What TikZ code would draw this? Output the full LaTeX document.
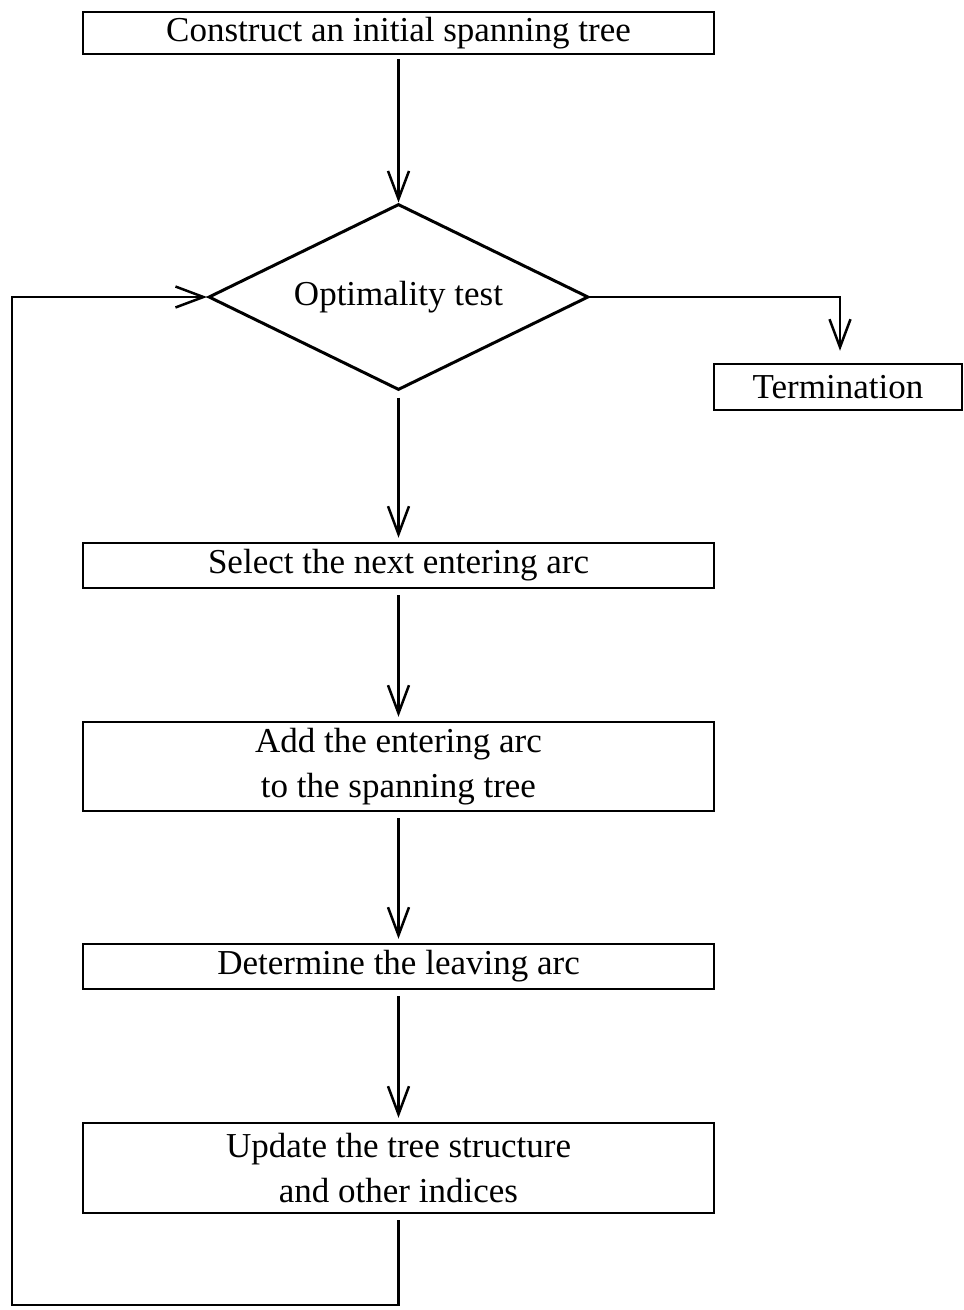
\documentclass[tikz,border=0pt]{standalone}
\usepackage{fontspec}
\setmainfont{Liberation Serif}
\usetikzlibrary{shapes.geometric,arrows.meta}
\begin{document}
\begin{tikzpicture}[x=1pt,y=-1pt,
  txt/.style={font=\fontsize{35}{45}\selectfont, align=center},
  stepbox/.style={txt, draw, line width=2.5pt, minimum width=631pt, inner sep=0pt},
  decision/.style={txt, diamond, aspect=2, draw, line width=3pt, inner sep=0pt,
    minimum width=380pt, minimum height=186pt},
  flow/.style={line width=2.3pt,
    -{Straight Barb[length=28pt,width=21pt,line width=2.5pt]},
    shorten <=6pt, shorten >=4pt}
]
\useasboundingbox (0,0) rectangle (964,1310);

% boxes of the procedure
\node[stepbox, minimum height=42pt] (init) at (398.5,33) {Construct an initial spanning tree};
\node[decision] (opt) at (398.5,297) {Optimality test};
\node[stepbox, minimum width=248pt, minimum height=46pt] (term) at (838,387) {Termination};
\node[stepbox, minimum height=45pt] (sel) at (398.5,565.5) {Select the next entering arc};
\node[stepbox, minimum height=89pt] (add) at (398.5,766.5) {Add the entering arc\\to the spanning tree};
\node[stepbox, minimum height=45pt] (det) at (398.5,966.5) {Determine the leaving arc};
\node[stepbox, minimum height=90pt] (upd) at (398.5,1168) {Update the tree structure\\and other indices};
\coordinate (corner) at (12,1305);

% connectors
\draw[flow, shorten <=4pt, shorten >=0pt] (init) -- (opt);
\draw[flow, shorten <=0pt, shorten >=12pt] (opt.east) -| ([xshift=2pt]term.north);
\draw[flow] (opt) -- (sel);
\draw[flow] (sel) -- (add);
\draw[flow] (add) -- (det);
\draw[flow] (det) -- (upd);
\draw[flow, shorten >=0pt] (upd) -- (upd |- corner) -- (corner) |- (opt.west);
\end{tikzpicture}
\end{document}
